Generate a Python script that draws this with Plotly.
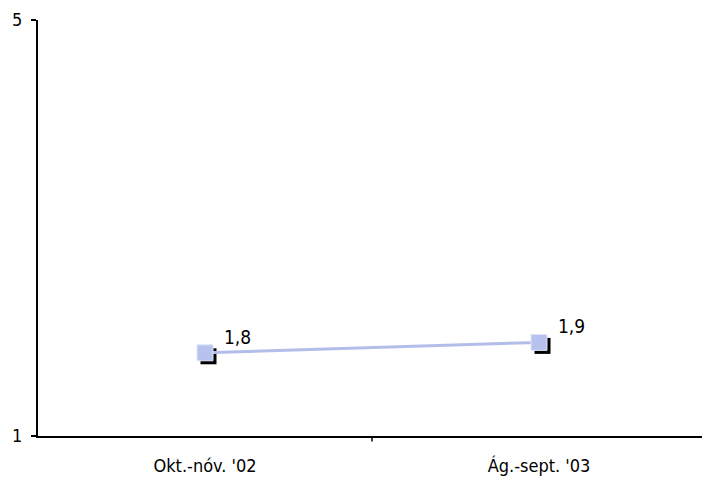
import plotly.graph_objects as go

periods = ["Okt.-nóv. '02", "Ág.-sept. '03"]
scores = [1.8, 1.9]

W, H = 702, 478
ML, MT, MB, MR = 38, 20, 42, 0
x_range = [-0.5, 1.488]
y_range = [1, 5]

# pixel-sized offset for the drop shadow behind each marker
plot_w = W - ML - MR
plot_h = H - MT - MB
dx = 3.5 * (x_range[1] - x_range[0]) / plot_w
dy = 3.5 * (y_range[1] - y_range[0]) / plot_h

font = "Liberation Sans Narrow, DejaVu Sans Condensed, Arial Narrow, sans-serif"

fig = go.Figure()

# shadow squares on the hidden base axes, shifted by a few pixels
fig.add_trace(go.Scatter(
    x=[0, 1], y=scores, mode="markers",
    marker=dict(symbol="square", size=16, color="black"),
    xaxis="x", yaxis="y", hoverinfo="skip", showlegend=False,
))

# main series on the visible axes drawn on top
fig.add_trace(go.Scatter(
    x=[0, 1], y=scores, mode="lines+markers",
    line=dict(color="#b3bde9", width=3),
    marker=dict(symbol="square", size=16, color="#b7c3ee",
                line=dict(color="#dfe5f8", width=1)),
    xaxis="x2", yaxis="y2", showlegend=False,
))

for i, v in enumerate(scores):
    fig.add_annotation(
        x=i, y=v, xref="x2", yref="y2", text=f"{v:.1f}".replace(".", ","),
        showarrow=False, xanchor="left", yanchor="bottom",
        xshift=17, yshift=3, font=dict(size=19, color="black", family=font),
    )

fig.update_layout(
    width=W, height=H,
    margin=dict(l=ML, r=MR, t=MT, b=MB),
    paper_bgcolor="white", plot_bgcolor="white",
    font=dict(family=font, size=18, color="black"),
    xaxis=dict(range=[x_range[0] - dx, x_range[1] - dx], visible=False,
               anchor="y"),
    yaxis=dict(range=[y_range[0] + dy, y_range[1] + dy], visible=False,
               anchor="x"),
    xaxis2=dict(
        overlaying="x", anchor="y2", side="bottom",
        type="linear", range=x_range, tickvals=[0, 1], ticktext=periods,
        showgrid=False, zeroline=False, showline=True, linecolor="black",
        linewidth=2, ticks="", tickfont=dict(size=18), ticklabelstandoff=12,
    ),
    yaxis2=dict(
        overlaying="y", anchor="x2", side="left",
        range=y_range, tickvals=[1, 5], showgrid=False, zeroline=False,
        showline=True, linecolor="black", linewidth=2, ticks="outside",
        ticklen=5, tickwidth=1.5, tickcolor="black", tickfont=dict(size=18),
        ticklabelstandoff=5,
    ),
)

# category boundary tick below the x axis
fig.add_annotation(x=0.5, xref="x2", y=0, yref="paper", text="", showarrow=True,
                   ax=0, ay=7, arrowhead=0, arrowwidth=1.5, arrowcolor="black",
                   standoff=0)

fig.write_html("out.html")
